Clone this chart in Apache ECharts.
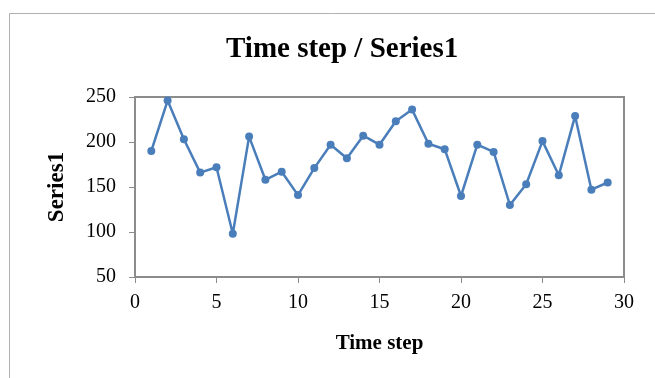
<!DOCTYPE html>
<html>
<head>
<meta charset="utf-8">
<script src="https://cdn.jsdelivr.net/npm/echarts@6/dist/echarts.min.js"></script>
<style>
  html, body { margin: 0; padding: 0; background: #ffffff; }
  #chart { width: 655px; height: 378px; }
</style>
</head>
<body>
<div id="chart"></div>
<script>
// Time steps and the recorded Series1 values
const timeSteps = [1, 2, 3, 4, 5, 6, 7, 8, 9, 10, 11, 12, 13, 14, 15, 16, 17, 18, 19, 20, 21, 22, 23, 24, 25, 26, 27, 28, 29];
const series1 = [190, 246, 203, 166, 172, 98, 206, 158, 167, 141, 171, 197, 182, 207, 197, 223, 236, 198, 192, 140, 197, 189, 130, 153, 201, 163, 229, 147, 155];
const titleText = 'Time step / Series1';
const xName = 'Time step';
const yName = 'Series1';

const serif = '"Liberation Serif", "Times New Roman", serif';
const axisGray = '#8c8c8c';

const chart = echarts.init(document.getElementById('chart'), null, { renderer: 'canvas' });
chart.setOption({
  backgroundColor: '#ffffff',
  animation: false,
  title: {
    text: titleText,
    left: 221,
    top: 30,
    textStyle: { fontFamily: serif, fontSize: 29, fontWeight: 'bold', color: '#000' }
  },
  graphic: [{
    type: 'rect',
    shape: { x: 9.5, y: 13.5, width: 700, height: 420 },
    style: { fill: 'none', stroke: '#b0b0b0', lineWidth: 1 },
    silent: true,
    z: -1
  }],
  grid: {
    left: 135, right: 31, top: 97, bottom: 101,
    show: true,
    borderColor: axisGray,
    borderWidth: 2,
    backgroundColor: 'transparent'
  },
  xAxis: {
    type: 'value',
    min: 0, max: 30, interval: 5,
    name: xName,
    nameLocation: 'middle',
    nameGap: 56,
    nameTextStyle: { fontFamily: serif, fontSize: 21, fontWeight: 'bold', color: '#000' },
    axisLine: { show: true, lineStyle: { color: axisGray, width: 2 } },
    axisTick: { show: true, inside: false, length: 6, lineStyle: { color: axisGray, width: 1 } },
    axisLabel: { fontFamily: serif, fontSize: 20, color: '#000', margin: 16 },
    splitLine: { show: false }
  },
  yAxis: {
    type: 'value',
    min: 50, max: 250, interval: 50,
    name: yName,
    nameLocation: 'middle',
    nameGap: 66,
    nameRotate: 90,
    nameTextStyle: { fontFamily: serif, fontSize: 23, fontWeight: 'bold', color: '#000' },
    axisLine: { show: true, lineStyle: { color: axisGray, width: 2 } },
    axisTick: { show: true, inside: false, length: 6, lineStyle: { color: axisGray, width: 1 } },
    axisLabel: { fontFamily: serif, fontSize: 20, color: '#000', margin: 19 },
    splitLine: { show: false }
  },
  series: [{
    type: 'line',
    data: timeSteps.map((t, i) => [t, series1[i]]),
    symbol: 'circle',
    symbolSize: 8,
    lineStyle: { color: '#4a7ebb', width: 2.5 },
    itemStyle: { color: '#4a7ebb' }
  }]
});
</script>
</body>
</html>
